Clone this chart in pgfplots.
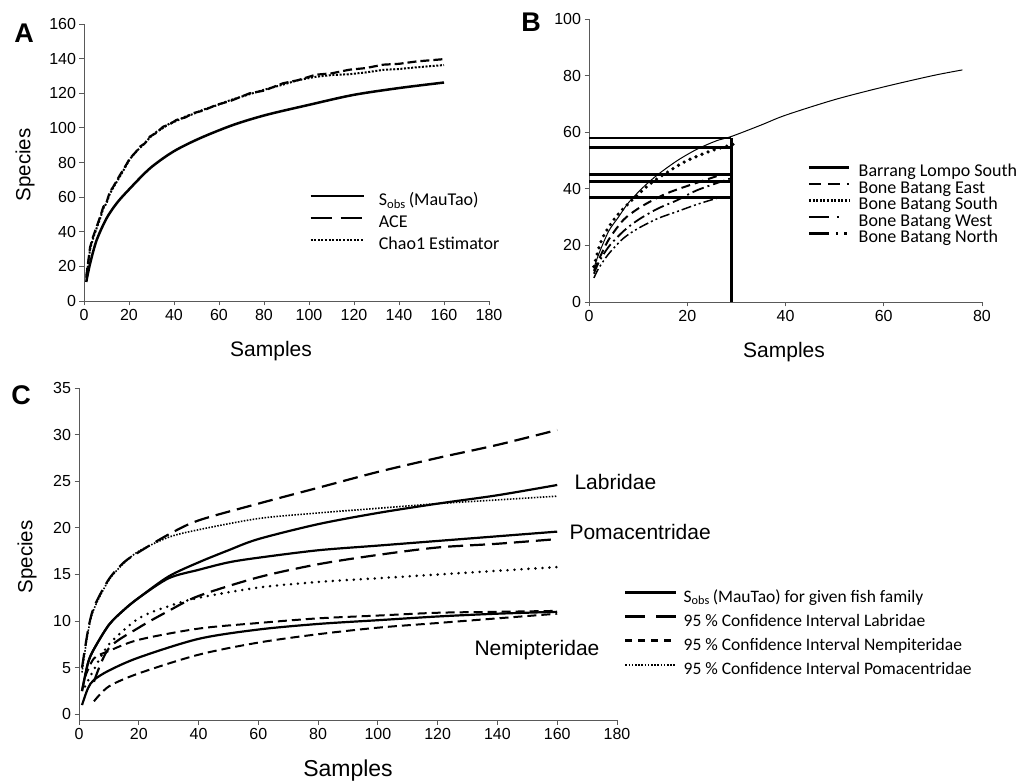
\documentclass[border=0pt]{standalone}
\usepackage{fontspec}
\setmainfont{Liberation Sans}
\newfontfamily\calibri{Carlito}
\usepackage{pgfplots}
\pgfplotsset{compat=1.18}

\pgfplotsset{
  panel/.style={
    scale only axis, clip=false,
    axis lines=left,
    axis line style={-, draw=black!65, line width=0.9pt},
    tick align=outside, major tick length=4.5pt,
    tick style={draw=black!65, line width=0.9pt},
    xticklabel style={font=\fontsize{16}{16}\selectfont},
    yticklabel style={font=\fontsize{16}{16}\selectfont},
    /pgf/number format/assume math mode=true,
    legend cell align=left,
  },
  leg/.style={
    legend style={draw=none, fill=none, inner sep=0pt, anchor=west},
  },
}

\begin{document}
\begin{tikzpicture}
\path[use as bounding box] (0pt,0pt) rectangle (1021pt,-783pt);

% ---------- A ----------
\begin{axis}[panel, leg, at={(84pt,-301pt)}, anchor=south west,
  width=405pt, height=277pt,
  xmin=0, xmax=180, ymin=0, ymax=160,
  xtick={0,20,...,180}, ytick={0,20,...,160},
  legend style={at={(0.556,0.28)}, font=\calibri\fontsize{18}{18}\selectfont,
    nodes={inner sep=1pt, text height=13pt, text depth=5pt},
    row sep=2pt, column sep=13pt},
  legend image code/.code={\path (0pt,0pt); \draw[#1] (0pt,5.5pt) -- (53pt,5.5pt);},
]
\addlegendimage{black, line width=2.5pt}
\addlegendentry{S\textsubscript{obs}\,(MauTao)}
\addlegendimage{black, line width=2.5pt, dash pattern=on 21pt off 9pt}
\addlegendentry{ACE}
\addlegendimage{black, line width=2.2pt, dash pattern=on 2pt off 1.6pt}
\addlegendentry{Chao1 Estimator}
\addplot[black, line width=2.5pt, smooth, forget plot] coordinates {
 (1,11) (2.7,21.6) (5.6,35.1) (10,47.7) (14.5,56.4) (19.7,64) (29.3,76.6)
 (39.7,86.3) (51.5,94) (66.3,101.7) (81,107.5) (100,113.3) (119.6,119)
 (140,123) (160,126.2)};
\addplot[black, line width=2.2pt, dash pattern=on 9pt off 4pt, forget plot] coordinates {
 (1,14) (2.7,31) (4,37) (5.6,42.8) (7,48) (8.6,54.4) (10,57) (11.5,63) (13,66)
 (16,72.8) (18,77) (20.4,82.4) (23,86) (24.9,89.2) (27,91) (29.3,95) (32,97)
 (35.2,100.7) (38,102) (41.1,104.6) (45,106) (48.5,108.5) (53,110) (58.9,113.3)
 (65,115.5) (73.7,120) (80,121.5) (88.5,125.8) (95,127.5) (103,130.7)
 (110,131.5) (118,133.6) (125,134.5) (133,136.5) (140,137) (148,138.4) (160,139.7)};
\addplot[black, line width=2pt, dash pattern=on 2pt off 1.6pt, forget plot] coordinates {
 (1,13) (2.7,30) (4,36) (5.6,42) (7,47) (8.6,53.5) (10,56.5) (11.5,62) (13,65.5)
 (16,72) (18,76.5) (20.4,82) (23,86) (24.9,88.5) (27,91) (29.3,94.5) (32,97.5)
 (35.2,100) (38,102.5) (41.1,104) (45,106.5) (48.5,108) (53,110.5) (58.9,113)
 (65,116) (73.7,119.5) (80,122) (88.5,125) (95,127.5) (103,129.5)
 (110,130.5) (118,131) (125,132) (133,133.5) (140,134) (148,135) (160,136.3)};
\end{axis}

% ---------- B ----------
\begin{axis}[panel, leg, at={(589pt,-302pt)}, anchor=south west,
  width=393pt, height=283pt,
  xmin=0, xmax=80, ymin=0, ymax=100,
  xtick={0,20,...,80}, ytick={0,20,...,100},
  legend style={at={(0.556,0.341)}, font=\calibri\fontsize{18}{18}\selectfont,
    nodes={inner sep=0.5pt, text height=12pt, text depth=3.5pt},
    row sep=0pt, column sep=8pt},
  legend image code/.code={\path (0pt,0pt); \draw[#1] (0pt,5pt) -- (40pt,5pt);},
]
\addlegendimage{black, line width=2.5pt}
\addlegendentry{Barrang Lompo South}
\addlegendimage{black, line width=2.5pt, dash pattern=on 12pt off 7pt}
\addlegendentry{Bone Batang East}
\addlegendimage{black, line width=2.2pt, dash pattern=on 2pt off 1.6pt}
\addlegendentry{Bone Batang South}
\addlegendimage{black, line width=2.5pt, dash pattern=on 20pt off 8pt on 2.5pt off 20pt}
\addlegendentry{Bone Batang West}
\addlegendimage{black, line width=2.5pt, dash pattern=on 20pt off 7pt on 2.5pt off 6pt on 2.5pt off 20pt}
\addlegendentry{Bone Batang North}
% observed richness at 29 samples
\addplot[black, line width=2.6pt, forget plot] coordinates {(0,58) (29,58)};
\addplot[black, line width=2.6pt, forget plot] coordinates {(0,54.5) (29,54.5)};
\addplot[black, line width=2.6pt, forget plot] coordinates {(0,45) (29,45)};
\addplot[black, line width=2.6pt, forget plot] coordinates {(0,42.5) (29,42.5)};
\addplot[black, line width=2.6pt, forget plot] coordinates {(0,37) (29,37)};
\addplot[black, line width=2.8pt, forget plot] coordinates {(29,0) (29,58)};
\addplot[black, line width=1pt, smooth, forget plot] coordinates {
 (1,12) (2,17) (4,25) (6,30) (8,35) (11,40.5) (14,45) (18,50) (22,54) (26,57)
 (29,58.5) (35,62.5) (40,66) (50,71.5) (60,76) (70,80) (76,82)};
\addplot[black, line width=3.6pt, line cap=round, dash pattern=on 0pt off 6.5pt, smooth, forget plot] coordinates {
 (1,12.5) (2,19) (3,23.5) (5,29) (7,33) (10,38) (13,42.5) (17,47) (20,50) (25,53.5) (30,56)};
\addplot[black, line width=2pt, dash pattern=on 9pt off 5pt, smooth, forget plot] coordinates {
 (1,11) (2,15) (4,22) (7,29) (10,33) (13,36) (16,38.5) (20,41) (27.3,45.2)};
\addplot[black, line width=1.8pt, dash pattern=on 12pt off 4pt on 2pt off 4pt, smooth, forget plot] coordinates {
 (1,10) (2,14) (4,19.5) (7,25) (10,29) (14,33) (18,36) (22,39.5) (28.7,43.6)};
\addplot[black, line width=1.5pt, dash pattern=on 10pt off 3pt on 2pt off 3pt on 2pt off 3pt, smooth, forget plot] coordinates {
 (1,8.5) (2,12) (4,17) (7,22.5) (10,26) (14,29.5) (18,32) (22,34.5) (26.3,36.8)};
\end{axis}

% ---------- C ----------
\begin{axis}[panel, leg, at={(79pt,-720pt)}, anchor=south west,
  width=538pt, height=332pt,
  xmin=0, xmax=180, ymin=-0.6, ymax=35,
  xtick={0,20,...,180}, ytick={0,5,...,35},
  legend style={at={(1.013,0.259)}, font=\calibri\fontsize{17.5}{17.5}\selectfont,
    nodes={inner sep=1pt, text height=13pt, text depth=5pt},
    row sep=4pt, column sep=5pt},
  legend image code/.code={\path (0pt,0pt); \draw[#1] (0pt,5.5pt) -- (51pt,5.5pt);},
]
\addlegendimage{black, line width=2.5pt}
\addlegendentry{S\textsubscript{obs}\,(MauTao) for given fish family}
\addlegendimage{black, line width=2.5pt, dash pattern=on 20pt off 11pt}
\addlegendentry{95~\% Confidence Interval Labridae}
\addlegendimage{black, line width=2.5pt, dash pattern=on 7pt off 6pt}
\addlegendentry{95~\% Confidence Interval Nempiteridae}
\addlegendimage{black, line width=2pt, dash pattern=on 1.6pt off 1.6pt}
\addlegendentry{95~\% Confidence Interval Pomacentridae}
% Labridae
\addplot[black, line width=2.2pt, smooth, forget plot] coordinates {
 (1,2.5) (3,5.5) (5,7) (10,9.6) (15,11.2) (20,12.5) (30,14.8) (40,16.3) (50,17.6)
 (60,18.8) (80,20.4) (100,21.6) (120,22.6) (140,23.5) (160,24.6)};
\addplot[black, line width=2.2pt, dash pattern=on 15pt off 7pt, smooth, forget plot] coordinates {
 (1,5) (3,9) (5,11.5) (10,14.5) (15,16.3) (20,17.4) (30,19.3) (40,20.8) (60,22.6)
 (80,24.3) (100,26) (120,27.5) (140,28.9) (160,30.5)};
\addplot[black, line width=2.2pt, dash pattern=on 15pt off 7pt, smooth, forget plot] coordinates {
 (5,3.5) (10,7.1) (20,9.3) (30,11.1) (40,12.7) (60,14.7) (80,16.1) (100,17.1)
 (120,17.9) (140,18.3) (160,18.8)};
% Pomacentridae
\addplot[black, line width=2.2pt, smooth, forget plot] coordinates {
 (1,2.5) (3,5.5) (5,7) (10,9.6) (15,11.2) (20,12.5) (30,14.6) (40,15.5) (50,16.3)
 (60,16.8) (80,17.6) (100,18.1) (120,18.6) (140,19.1) (160,19.6)};
\addplot[black, line width=1.6pt, dash pattern=on 1.5pt off 1.5pt, smooth, forget plot] coordinates {
 (1,4.5) (3,8.8) (5,11.3) (10,14.4) (15,16.2) (20,17.5) (30,19) (40,19.8) (60,21)
 (80,21.6) (100,22.1) (120,22.6) (140,23) (160,23.4)};
\addplot[black, line width=2.8pt, line cap=round, dash pattern=on 0pt off 7pt, smooth, forget plot] coordinates {
 (2,3) (5,4.8) (10,7.5) (20,10.3) (30,11.6) (40,12.5) (60,13.6) (80,14.2) (100,14.6)
 (120,15) (140,15.4) (160,15.8)};
% Nemipteridae
\addplot[black, line width=2.2pt, smooth, forget plot] coordinates {
 (1,1) (3,2.8) (5,3.7) (10,4.7) (20,6.1) (40,8.1) (60,9.1) (80,9.7) (100,10.1)
 (120,10.5) (140,10.8) (160,11)};
\addplot[black, line width=2pt, dash pattern=on 9pt off 5pt, smooth, forget plot] coordinates {
 (2,4) (5,6) (10,6.8) (20,8) (40,9.2) (60,9.8) (80,10.3) (100,10.6) (120,10.9)
 (140,11) (160,11.1)};
\addplot[black, line width=2pt, dash pattern=on 9pt off 5pt, smooth, forget plot] coordinates {
 (5,1.4) (10,3) (20,4.4) (40,6.4) (60,7.7) (80,8.6) (100,9.3) (120,9.8) (140,10.3)
 (160,10.8)};
\end{axis}

% ---------- labels ----------
\node[font=\bfseries\fontsize{27}{27}\selectfont] at (24pt,-33pt) {A};
\node[font=\bfseries\fontsize{27}{27}\selectfont] at (531pt,-22pt) {B};
\node[font=\bfseries\fontsize{27}{27}\selectfont] at (21pt,-395pt) {C};
\node[font=\fontsize{21}{21}\selectfont] at (271pt,-351pt) {Samples};
\node[font=\fontsize{20.5}{20.5}\selectfont, rotate=90] at (25pt,-165pt) {Species};
\node[font=\fontsize{21}{21}\selectfont] at (784pt,-352pt) {Samples};
\node[font=\fontsize{23}{23}\selectfont] at (348pt,-771pt) {Samples};
\node[font=\fontsize{20.5}{20.5}\selectfont, rotate=90] at (27pt,-557pt) {Species};
\node[font=\fontsize{21}{21}\selectfont, anchor=west] at (571pt,-482pt) {Labridae};
\node[font=\fontsize{21}{21}\selectfont, anchor=west] at (566pt,-532pt) {Pomacentridae};
\node[font=\fontsize{21}{21}\selectfont] at (537pt,-650pt) {Nemipteridae};
\end{tikzpicture}
\end{document}
